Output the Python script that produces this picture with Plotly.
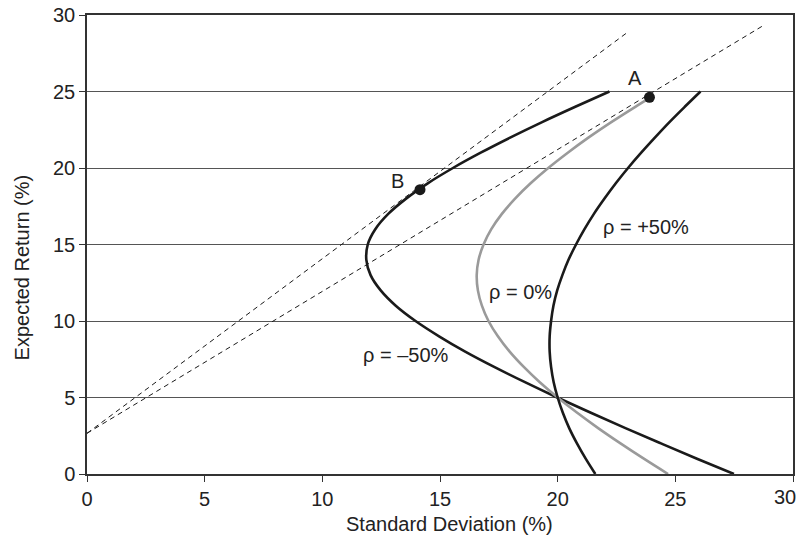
import plotly.graph_objects as go

# Expected return levels (%) at which the curves were read
ret_levels = [0, 1, 2, 3, 4, 5, 6, 7, 8, 9, 10, 11, 12, 13, 14, 15, 16, 17, 18, 19, 20, 21, 22, 23, 24, 25]

# rho = -50% : standard deviation (%) at each return level
sd_neg50 = [27.49, 25.92, 24.39, 22.88, 21.41, 19.98, 18.61, 17.30, 16.07, 14.96, 13.96, 13.12, 12.48,
            12.05, 11.87, 11.93, 12.25, 12.80, 13.56, 14.48, 15.55, 16.73, 18.00, 19.34, 20.75, 22.20]

# rho = 0% : return levels and standard deviations (ends at point A)
ret_zero = [0, 1, 2, 3, 4, 5, 6, 7, 8, 9, 10, 11, 12, 13, 14, 15, 16, 17, 18, 19, 20, 21, 22, 23, 24, 24.6]
sd_zero = [24.69, 23.66, 22.67, 21.72, 20.83, 20.00, 19.24, 18.56, 17.96, 17.46, 17.06, 16.78, 16.61,
           16.56, 16.64, 16.85, 17.18, 17.63, 18.19, 18.85, 19.60, 20.43, 21.32, 22.28, 23.30, 23.93]

# rho = +50%
sd_pos50 = [21.60, 21.19, 20.82, 20.49, 20.22, 20.00, 19.83, 19.72, 19.66, 19.66, 19.72, 19.82, 19.98,
            20.20, 20.46, 20.78, 21.14, 21.54, 21.99, 22.47, 22.99, 23.55, 24.14, 24.75, 25.40, 26.07]

# Dashed lines (start / end points)
dash1_x = [0, 22.97]
dash1_y = [2.66, 28.87]
dash2_x = [0, 28.78]
dash2_y = [2.66, 29.35]

# Marked portfolios
pts_name = ["A", "B"]
pts_x = [23.9, 14.15]
pts_y = [24.62, 18.58]

# Label positions
lab_text = ["ρ = +50%", "ρ = 0%", "ρ = –50%", "A", "B"]
lab_x = [23.74, 18.43, 13.55, 23.3, 13.2]
lab_y = [16.16, 11.92, 7.78, 25.86, 19.15]

x_ticks = [0, 5, 10, 15, 20, 25, 30]
x_ticktext = ["0", "5", "10", "15", "20", "25", ""]   # last label drawn right-aligned at the edge
x_last_label = "30"
y_ticks = [0, 5, 10, 15, 20, 25, 30]
x_title = "Standard Deviation (%)"
y_title = "Expected Return (%)"

FONT = "Liberation Sans, Arial, Helvetica, sans-serif"
BLACK = "#1a1a1a"
GRAY = "#9a9a9a"
TXT = "#222"

fig = go.Figure()

for xs, ys in [(dash1_x, dash1_y), (dash2_x, dash2_y)]:
    fig.add_trace(go.Scatter(x=xs, y=ys, mode="lines",
                             line=dict(color=BLACK, width=1, dash="5px,4px"),
                             hoverinfo="skip", showlegend=False))

fig.add_trace(go.Scatter(x=sd_neg50, y=ret_levels, mode="lines",
                         line=dict(color=BLACK, width=2.6, shape="spline"), showlegend=False))
fig.add_trace(go.Scatter(x=sd_zero, y=ret_zero, mode="lines",
                         line=dict(color=GRAY, width=2.6, shape="spline"), showlegend=False))
fig.add_trace(go.Scatter(x=sd_pos50, y=ret_levels, mode="lines",
                         line=dict(color=BLACK, width=2.6, shape="spline"), showlegend=False))

fig.add_trace(go.Scatter(x=pts_x, y=pts_y, mode="markers",
                         marker=dict(color=BLACK, size=11), text=pts_name, showlegend=False))

for t, x, y in zip(lab_text, lab_x, lab_y):
    fig.add_annotation(x=x, y=y, text=t, showarrow=False,
                       font=dict(family=FONT, size=20, color=TXT),
                       xanchor="center", yanchor="middle")

# last x tick label, kept inside the window
fig.add_annotation(x=x_ticks[-1], y=0, xref="x", yref="paper", text=x_last_label,
                   showarrow=False, xanchor="right", xshift=5, yanchor="middle", yshift=-23,
                   font=dict(family=FONT, size=20, color=TXT))

# axis titles
fig.add_annotation(xref="paper", yref="paper", x=0.513, y=0, yshift=-50,
                   text=x_title, showarrow=False, xanchor="center", yanchor="middle",
                   font=dict(family=FONT, size=20, color=TXT))
fig.add_annotation(xref="paper", yref="paper", x=0, xshift=-65, y=0.45,
                   text=y_title, showarrow=False, textangle=-90,
                   xanchor="center", yanchor="middle",
                   font=dict(family=FONT, size=20, color=TXT))

fig.update_layout(
    width=799, height=543,
    margin=dict(l=87, r=6, t=15, b=69),
    plot_bgcolor="white", paper_bgcolor="white",
    font=dict(family=FONT, size=20, color=TXT),
    xaxis=dict(range=[0, 30], tickvals=x_ticks, ticktext=x_ticktext,
               showgrid=False, zeroline=False, automargin=False, ticklabeloverflow="allow",
               showline=True, linecolor="#333", linewidth=1.5, mirror=True,
               ticks="outside", ticklen=6, tickcolor="#333", tickwidth=1),
    yaxis=dict(range=[0, 30], tickvals=y_ticks, ticktext=[str(v) for v in y_ticks],
               showgrid=True, gridcolor="#555", gridwidth=1, zeroline=False, automargin=False,
               ticklabeloverflow="allow",
               showline=True, linecolor="#333", linewidth=1.5, mirror=True,
               ticks="outside", ticklen=6, tickcolor="#333", tickwidth=1),
)

# remove the page's default 8px body margin so the figure fills the window exactly
fig.write_html("out.html", config={"displayModeBar": False},
               post_script="document.body.style.margin='0';")
